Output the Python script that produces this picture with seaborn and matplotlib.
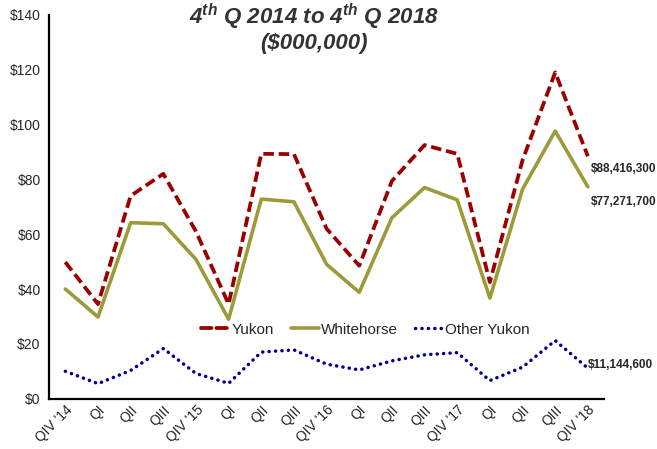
import numpy as np
import pandas as pd
import seaborn as sns
import matplotlib.pyplot as plt

# quarter labels along the x axis
quarters = ["QIV '14", "QI", "QII", "QIII", "QIV '15", "QI", "QII", "QIII",
            "QIV '16", "QI", "QII", "QIII", "QIV '17", "QI", "QII", "QIII", "QIV '18"]

# values in $ millions
yukon = [49.8, 34.5, 74.0, 82.0, 61.0, 34.5, 89.3, 89.2, 62.0, 48.5, 79.4, 92.5,
         89.3, 42.5, 87.0, 119.0, 88.4163]
whitehorse = [40.0, 29.8, 64.2, 63.8, 50.8, 29.0, 72.8, 71.8, 49.0, 38.8, 66.0, 77.0,
              72.5, 36.7, 76.4, 97.6, 77.2717]
other_yukon = [10.0, 5.5, 10.3, 18.3, 9.2, 5.6, 17.0, 17.8, 12.6, 10.5, 13.8, 16.0,
               16.8, 6.6, 11.5, 21.2, 11.1446]

end_labels = ["$88,416,300", "$77,271,700", "$11,144,600"]

sns.set_style("white")
plt.rcParams['font.family'] = ['Liberation Sans', 'DejaVu Sans']
plt.rcParams['mathtext.fontset'] = 'custom'
plt.rcParams['mathtext.it'] = 'Liberation Sans:bold:italic'
plt.rcParams['mathtext.rm'] = 'Liberation Sans:bold:italic'

df = pd.DataFrame({'idx': np.arange(len(quarters)), 'Yukon': yukon,
                   'Whitehorse': whitehorse, 'Other Yukon': other_yukon})

fig = plt.figure(figsize=(6.57, 4.49), dpi=100)
ax = fig.add_axes([0.0746, 0.112, 0.845, 0.855])

sns.lineplot(data=df, x='idx', y='Yukon', ax=ax, color='#990000', linewidth=2.7,
             label='Yukon')
ax.lines[-1].set_linestyle((0, (2.8, 1.3)))
sns.lineplot(data=df, x='idx', y='Whitehorse', ax=ax, color='#9C9A3A', linewidth=2.6,
             label='Whitehorse')
sns.lineplot(data=df, x='idx', y='Other Yukon', ax=ax, color='#00008C', linewidth=2.5,
             label='Other Yukon')
ax.lines[-1].set_linestyle((0, (0.05, 1.8)))
ax.lines[-1].set_dash_capstyle('round')

ax.set_xlim(-0.5, len(quarters) - 0.5)
ax.set_ylim(0, 140)
ax.set_yticks(np.arange(0, 141, 20))
ax.set_yticklabels(['$%d' % v for v in range(0, 141, 20)], fontsize=10)
ax.set_xticks(np.arange(len(quarters)))
ax.set_xticklabels(quarters, rotation=45, ha='right', rotation_mode='anchor', fontsize=10)
ax.set_xlabel('')
ax.set_ylabel('')
ax.tick_params(axis='y', length=0, pad=6)
ax.tick_params(axis='x', length=0, pad=3)
for s in ['top', 'right']:
    ax.spines[s].set_visible(False)
for s in ['left', 'bottom']:
    ax.spines[s].set_color('black')
    ax.spines[s].set_linewidth(1.6)

leg = ax.legend(loc='center', bbox_to_anchor=(0.57, 0.18), ncol=3, frameon=False,
                fontsize=11, handlelength=1.85, handletextpad=0.15, columnspacing=1.1)
for h in leg.get_lines():
    h.set_dash_capstyle('round')

# end-of-series labels
last = len(quarters) - 1
ax.annotate(end_labels[0], (last, yukon[-1]), xytext=(2, -9.5), textcoords='offset points',
            fontsize=8.5, fontweight='bold', va='center', annotation_clip=False)
ax.annotate(end_labels[1], (last, whitehorse[-1]), xytext=(2, -11), textcoords='offset points',
            fontsize=8.5, fontweight='bold', va='center', annotation_clip=False)
ax.annotate(end_labels[2], (last, other_yukon[-1]), xytext=(0, 2), textcoords='offset points',
            fontsize=8.5, fontweight='bold', va='center', annotation_clip=False)

fig.text(0.478, 0.963, r"4$^{th}$ Q 2014 to 4$^{th}$ Q 2018", ha='center', va='center',
         fontsize=16, fontweight='bold', fontstyle='italic', color='#333333')
fig.text(0.478, 0.903, "($000,000)", ha='center', va='center',
         fontsize=16, fontweight='bold', fontstyle='italic', color='#333333')

fig.savefig('out.png', dpi=100)
